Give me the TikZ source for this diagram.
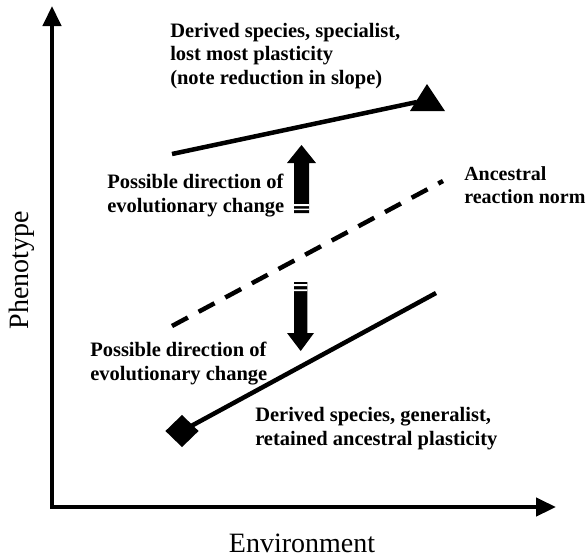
\documentclass[tikz,border=0pt]{standalone}
\usepackage{fontspec}
\setmainfont{Liberation Serif}
\usetikzlibrary{arrows.meta,shapes.geometric}

\begin{document}
\begin{tikzpicture}[x=1pt,y=-1pt,line width=4.5pt,
  lab/.style={font=\bfseries\fontsize{20.5}{23.5}\selectfont,align=left,anchor=base west,inner sep=0pt},
  axlab/.style={font=\fontsize{28}{30}\selectfont,inner sep=0pt}]
\useasboundingbox (0,0) rectangle (587,558);
% axes
\coordinate (O) at (52,507);
\coordinate (ytip) at (52,6);
\coordinate (xtip) at (556,507);
\draw[{Triangle[length=20pt,width=18pt]}-{Triangle[length=20pt,width=18pt]}] (ytip)--(O)--(xtip);
\node[axlab,rotate=90] (ylab) at (22,270) {Phenotype};
\node[axlab] (xlab) at (302,543) {Environment};
% reaction norms
\coordinate (s1) at (172,154);
\coordinate (s2) at (417,102);
\draw (s1)--(s2);
\fill (410,111)--(427,84)--(445,111)--cycle;
\coordinate (a1) at (172,326);
\coordinate (a2) at (443,181);
\draw[dash pattern=on 18pt off 12.2pt] (a1)--(a2);
\node[diamond,fill,inner sep=0pt,minimum width=35pt,minimum height=34pt] (gend) at (182,431) {};
\coordinate (g2) at (436,293);
\draw (gend.center)--(g2);
% big arrows
\fill (294,213)--(294,163)--(287,163)--(301.5,145)--(316,163)--(309,163)--(309,213)--cycle;
\fill[white] (294,204) rectangle (309,206) (294,208.7) rectangle (309,210);
\fill (294,282)--(294,333)--(287,333)--(300.7,351)--(314,333)--(307.3,333)--(307.3,282)--cycle;
\fill[white] (294,284) rectangle (307.3,286) (294,289.3) rectangle (307.3,291);
% labels (base = last line)
\node[lab] (spec) at (168,84) {Derived species, specialist,\\lost most plasticity\\(note reduction in slope)};
\node[lab] (upchg) at (105,212) {Possible direction of\\evolutionary change};
\node[lab,font=\bfseries\fontsize{20}{23.5}\selectfont] (anc) at (462,203.5) {Ancestral\\reaction norm};
\node[lab] (downchg) at (88,380) {Possible direction of\\evolutionary change};
\node[lab] (gen) at (253,445) {Derived species, generalist,\\retained ancestral plasticity};
\end{tikzpicture}
\end{document}
